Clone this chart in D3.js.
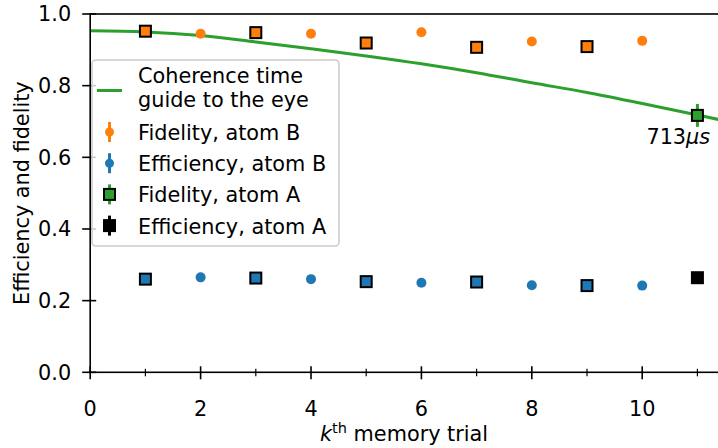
<!DOCTYPE html>
<html>
<head>
<meta charset="utf-8">
<script src="https://cdnjs.cloudflare.com/ajax/libs/d3/7.8.5/d3.min.js"></script>
<style>
  body { margin: 0; background: #fff; }
  svg { display: block; font-family: "DejaVu Sans", sans-serif; }
  text { fill: #000; }
</style>
</head>
<body>
<script>
// atom A measured on odd trials, atom B on even trials
const trialsA = [1, 3, 5, 7, 9, 11];
const fidelityA = [0.952, 0.948, 0.919, 0.907, 0.909, 0.717];
const fidelityAErr = [0.01, 0.01, 0.01, 0.01, 0.01, 0.032];
const efficiencyA = [0.260, 0.263, 0.253, 0.252, 0.242, 0.264];
const efficiencyAErr = [0.005, 0.005, 0.005, 0.005, 0.005, 0.005];

const trialsB = [2, 4, 6, 8, 10];
const fidelityB = [0.945, 0.945, 0.949, 0.923, 0.925];
const fidelityBErr = [0.008, 0.008, 0.008, 0.008, 0.008];
const efficiencyB = [0.265, 0.260, 0.250, 0.243, 0.242];
const efficiencyBErr = [0.004, 0.004, 0.004, 0.004, 0.004];

// coherence guide to the eye
const guideK = [0, 1, 2, 3, 4, 5, 6, 7, 8, 9, 10, 11, 11.4];
const guideVal = [0.953, 0.950, 0.940, 0.922, 0.903, 0.883, 0.861, 0.836, 0.808, 0.781, 0.750, 0.718, 0.705];

const coherenceTrial = 11;
const coherenceLabel = "713";

const xTicks = [0, 2, 4, 6, 8, 10];
const xMinorTicks = [1, 3, 5, 7, 9, 11];
const yTicks = [0, 0.2, 0.4, 0.6, 0.8, 1.0];

const legendLabels = ["Fidelity, atom B", "Efficiency, atom B", "Fidelity, atom A", "Efficiency, atom A"];

const orange = "#ff7f0e", blue = "#1f77b4", green = "#2ca02c";
const FS = 20.8;

const W = 718, H = 448;
const x = d3.scaleLinear().domain([0, 11.4]).range([90.2, 719.5]);
const y = d3.scaleLinear().domain([0, 1]).range([372.3, 14]);

const svg = d3.select("body").append("svg")
  .attr("width", W).attr("height", H);

const zip = (ks, vs, es) => ks.map((k, i) => ({ k: k, v: vs[i], e: es[i] }));
const fidA = zip(trialsA, fidelityA, fidelityAErr);
const effA = zip(trialsA, efficiencyA, efficiencyAErr);
const fidB = zip(trialsB, fidelityB, fidelityBErr);
const effB = zip(trialsB, efficiencyB, efficiencyBErr);

// guide curve
const guideLine = d3.line()
  .x(d => x(d[0])).y(d => y(d[1]))
  .curve(d3.curveMonotoneX);
svg.append("path")
  .datum(guideK.map((k, i) => [k, guideVal[i]]))
  .attr("d", guideLine)
  .attr("fill", "none").attr("stroke", green).attr("stroke-width", 3);

function errorbars(data, color) {
  svg.append("g").selectAll("line").data(data).join("line")
    .attr("x1", d => x(d.k)).attr("x2", d => x(d.k))
    .attr("y1", d => y(d.v - d.e)).attr("y2", d => y(d.v + d.e))
    .attr("stroke", color).attr("stroke-width", 3);
}
function circles(data, color) {
  errorbars(data, color);
  svg.append("g").selectAll("circle").data(data).join("circle")
    .attr("cx", d => x(d.k)).attr("cy", d => y(d.v)).attr("r", 5)
    .attr("fill", color);
}
function squares(data, errColor, fill) {
  errorbars(data, errColor);
  svg.append("g").selectAll("rect").data(data).join("rect")
    .attr("x", d => x(d.k) - 5.5).attr("y", d => y(d.v) - 5.5)
    .attr("width", 11).attr("height", 11)
    .attr("fill", fill).attr("stroke", "#000").attr("stroke-width", 2);
}

circles(fidB, orange);
circles(effB, blue);
squares(fidA, green, d => d.k === coherenceTrial ? green : orange);
squares(effA, "#000", d => d.k === coherenceTrial ? "#000" : blue);

// annotation
const last = fidA.find(d => d.k === coherenceTrial);
const ann = svg.append("text")
  .attr("x", x(last.k) - 51).attr("y", y(last.v) + 29)
  .attr("font-size", FS);
ann.append("tspan").text(coherenceLabel);
ann.append("tspan").attr("font-style", "italic").text("μs");

// axes
const xAxis = svg.append("g").attr("transform", "translate(0," + y(0) + ")");
xAxis.selectAll(".maj").data(xTicks).join("line")
  .attr("x1", d => x(d)).attr("x2", d => x(d)).attr("y1", -6).attr("y2", 7)
  .attr("stroke", "#000").attr("stroke-width", 1.6);
xAxis.selectAll(".min").data(xMinorTicks).join("line")
  .attr("x1", d => x(d)).attr("x2", d => x(d)).attr("y1", -3.5).attr("y2", 4)
  .attr("stroke", "#000").attr("stroke-width", 1.2);
xAxis.selectAll("text").data(xTicks).join("text")
  .attr("x", d => x(d)).attr("y", 44)
  .attr("text-anchor", "middle").attr("font-size", FS)
  .text(d => d3.format("d")(d));

const yAxis = svg.append("g").attr("transform", "translate(" + x(0) + ",0)");
yAxis.selectAll("line").data(yTicks).join("line")
  .attr("x1", -8).attr("x2", 6).attr("y1", d => y(d)).attr("y2", d => y(d))
  .attr("stroke", "#000").attr("stroke-width", 1.6);
yAxis.selectAll("text").data(yTicks).join("text")
  .attr("x", -19).attr("y", d => y(d)).attr("dy", "0.36em")
  .attr("text-anchor", "end").attr("font-size", FS)
  .text(d => d3.format(".1f")(d));

// spines
svg.append("rect")
  .attr("x", x(0)).attr("y", y(1))
  .attr("width", x(11.4) - x(0)).attr("height", y(0) - y(1))
  .attr("fill", "none").attr("stroke", "#000").attr("stroke-width", 1.6);

// axis labels
const xl = svg.append("text")
  .attr("x", (x(0) + W) / 2).attr("y", 441)
  .attr("text-anchor", "middle").attr("font-size", FS);
xl.append("tspan").attr("font-style", "italic").text("k");
xl.append("tspan").attr("font-size", 14.5).attr("dy", -8).text("th");
xl.append("tspan").attr("dy", 8).text(" memory trial");

svg.append("text")
  .attr("transform", "translate(29," + (y(0) + y(1)) / 2 + ") rotate(-90)")
  .attr("text-anchor", "middle").attr("font-size", FS)
  .text("Efficiency and fidelity");

// legend
const lg = svg.append("g");
lg.append("rect")
  .attr("x", 92).attr("y", 60).attr("width", 247).attr("height", 186)
  .attr("rx", 4).attr("fill", "#fff").attr("fill-opacity", 0.8)
  .attr("stroke", "#cccccc").attr("stroke-width", 1.6);

lg.append("line").attr("x1", 97).attr("x2", 122).attr("y1", 90.5).attr("y2", 90.5)
  .attr("stroke", green).attr("stroke-width", 3);
lg.append("text").attr("x", 138).attr("y", 83).attr("font-size", FS).text("Coherence time");
lg.append("text").attr("x", 138).attr("y", 107).attr("font-size", FS).text("guide to the eye");

const rows = lg.selectAll(".row").data(legendLabels).join("g")
  .attr("transform", (d, i) => "translate(109.5," + (132 + i * 31.2) + ")");
rows.append("line").attr("y1", -10).attr("y2", 10)
  .attr("stroke", (d, i) => [orange, blue, green, "#000"][i]).attr("stroke-width", 3);
rows.filter((d, i) => i < 2).append("circle").attr("r", 4.5)
  .attr("fill", (d, i) => [orange, blue][i]);
rows.filter((d, i) => i >= 2).append("rect")
  .attr("x", -5.5).attr("y", -5.5).attr("width", 11).attr("height", 11)
  .attr("fill", (d, i) => [green, "#000"][i]).attr("stroke", "#000").attr("stroke-width", 2);
rows.append("text").attr("x", 28.5).attr("y", 8).attr("font-size", FS).text(d => d);
</script>
</body>
</html>
